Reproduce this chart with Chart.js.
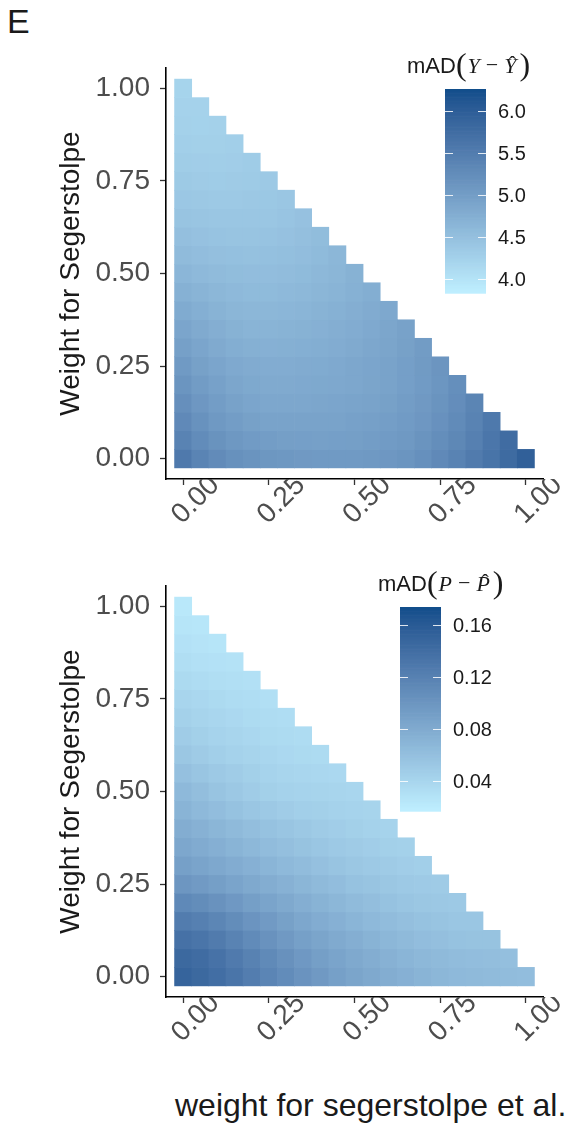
<!DOCTYPE html>
<html>
<head>
<meta charset="utf-8">
<title>mAD heatmaps</title>
<script src="https://cdn.jsdelivr.net/npm/chart.js@4.4.0/dist/chart.umd.min.js"></script>
<style>
    body { margin: 0; background: #fff; width: 565px; height: 1130px; position: relative; overflow: hidden; }
    .panel { position: absolute; left: 0; width: 565px; height: 560px; }
    #panel-top { top: 0; }
    #panel-bottom { top: 518px; }
    #panel-letter { position: absolute; left: 7px; top: 4px; font: 34px/34px "Liberation Sans", Arial, sans-serif; color: #1a1a1a; }
    #caption { position: absolute; left: 175px; top: 1089px; font: 32px/32px "Liberation Sans", Arial, sans-serif; color: #1a1a1a; white-space: nowrap; }
</style>
</head>
<body>
<div id="panel-letter">E</div>
<div class="panel" id="panel-top"><canvas id="chart-y" width="565" height="560"></canvas></div>
<div class="panel" id="panel-bottom"><canvas id="chart-p" width="565" height="560"></canvas></div>
<div id="caption">weight for segerstolpe et al.</div>

<script>
// ---- data ----
// grid of weights (x = weight on the other reference, y = weight for Segerstolpe)
const weights = [0, 0.05, 0.1, 0.15, 0.2, 0.25, 0.3, 0.35, 0.4, 0.45, 0.5,
                 0.55, 0.6, 0.65, 0.7, 0.75, 0.8, 0.85, 0.9, 0.95, 1];

const axisTickValues = [0, 0.25, 0.5, 0.75, 1];
const axisTickLabels = ['0.00', '0.25', '0.50', '0.75', '1.00'];

// mAD(Y - Yhat): one row per y weight (row 0 = y 0.00), values along x
const madYRows = [
    [5.55, 5.38, 5.27, 5.19, 5.14, 5.10, 5.08, 5.06, 5.05, 5.05, 5.05, 5.07, 5.09, 5.13, 5.20, 5.30, 5.40, 5.52, 5.64, 5.78, 5.95],
    [5.40, 5.26, 5.16, 5.08, 5.03, 5.00, 4.98, 4.97, 4.96, 4.97, 4.98, 5.00, 5.03, 5.07, 5.14, 5.23, 5.33, 5.45, 5.60, 5.76],
    [5.30, 5.17, 5.07, 5.00, 4.95, 4.92, 4.91, 4.91, 4.91, 4.92, 4.94, 4.96, 4.99, 5.03, 5.09, 5.18, 5.28, 5.40, 5.56],
    [5.21, 5.09, 5.00, 4.93, 4.88, 4.86, 4.86, 4.86, 4.87, 4.88, 4.90, 4.92, 4.95, 5.00, 5.06, 5.14, 5.24, 5.37],
    [5.13, 5.02, 4.94, 4.87, 4.83, 4.81, 4.81, 4.82, 4.83, 4.84, 4.86, 4.89, 4.92, 4.97, 5.03, 5.11, 5.22],
    [5.05, 4.95, 4.88, 4.82, 4.79, 4.78, 4.78, 4.79, 4.80, 4.82, 4.85, 4.88, 4.92, 4.97, 5.04, 5.12],
    [4.96, 4.88, 4.81, 4.76, 4.73, 4.72, 4.73, 4.74, 4.76, 4.78, 4.81, 4.85, 4.89, 4.95, 5.02],
    [4.88, 4.81, 4.75, 4.70, 4.67, 4.67, 4.68, 4.70, 4.72, 4.75, 4.78, 4.82, 4.87, 4.93],
    [4.80, 4.74, 4.68, 4.64, 4.62, 4.62, 4.63, 4.65, 4.68, 4.71, 4.75, 4.79, 4.84],
    [4.71, 4.66, 4.62, 4.59, 4.57, 4.57, 4.59, 4.61, 4.64, 4.67, 4.71, 4.76],
    [4.63, 4.59, 4.56, 4.54, 4.53, 4.53, 4.55, 4.57, 4.60, 4.64, 4.70],
    [4.56, 4.53, 4.50, 4.49, 4.48, 4.49, 4.51, 4.53, 4.57, 4.62],
    [4.50, 4.47, 4.45, 4.44, 4.44, 4.45, 4.47, 4.50, 4.54],
    [4.44, 4.42, 4.41, 4.40, 4.40, 4.41, 4.43, 4.47],
    [4.39, 4.37, 4.36, 4.36, 4.37, 4.38, 4.41],
    [4.35, 4.33, 4.32, 4.33, 4.34, 4.36],
    [4.31, 4.30, 4.29, 4.30, 4.32],
    [4.28, 4.27, 4.27, 4.28],
    [4.25, 4.24, 4.25],
    [4.23, 4.23],
    [4.21]
];
const madYLimits = [3.83, 6.26];
const madYLegendTicks = [4.0, 4.5, 5.0, 5.5, 6.0];
const madYLegendLabels = ['4.0', '4.5', '5.0', '5.5', '6.0'];

// mAD(P - Phat)
const madPRows = [
    [0.150, 0.145, 0.139, 0.132, 0.124, 0.116, 0.109, 0.102, 0.096, 0.090, 0.085, 0.081, 0.077, 0.074, 0.071, 0.068, 0.066, 0.065, 0.064, 0.063, 0.062],
    [0.145, 0.141, 0.135, 0.127, 0.119, 0.111, 0.104, 0.097, 0.091, 0.086, 0.081, 0.077, 0.073, 0.070, 0.067, 0.065, 0.063, 0.062, 0.061, 0.060],
    [0.136, 0.132, 0.126, 0.118, 0.110, 0.103, 0.096, 0.090, 0.085, 0.080, 0.076, 0.072, 0.068, 0.065, 0.062, 0.060, 0.058, 0.057, 0.057],
    [0.125, 0.121, 0.115, 0.108, 0.101, 0.095, 0.089, 0.083, 0.078, 0.074, 0.070, 0.066, 0.063, 0.060, 0.058, 0.056, 0.054, 0.054],
    [0.112, 0.108, 0.103, 0.097, 0.091, 0.086, 0.081, 0.076, 0.072, 0.068, 0.064, 0.061, 0.058, 0.055, 0.053, 0.052, 0.051],
    [0.099, 0.095, 0.091, 0.086, 0.081, 0.077, 0.073, 0.069, 0.065, 0.062, 0.058, 0.056, 0.053, 0.051, 0.050, 0.049],
    [0.090, 0.086, 0.082, 0.078, 0.074, 0.070, 0.066, 0.063, 0.059, 0.056, 0.053, 0.051, 0.049, 0.047, 0.046],
    [0.083, 0.079, 0.075, 0.071, 0.067, 0.063, 0.060, 0.057, 0.054, 0.051, 0.049, 0.047, 0.045, 0.044],
    [0.077, 0.073, 0.069, 0.065, 0.061, 0.058, 0.055, 0.052, 0.049, 0.047, 0.045, 0.043, 0.042],
    [0.071, 0.066, 0.062, 0.058, 0.054, 0.051, 0.048, 0.046, 0.045, 0.043, 0.042, 0.041],
    [0.066, 0.061, 0.056, 0.052, 0.048, 0.045, 0.043, 0.042, 0.041, 0.040, 0.039],
    [0.059, 0.055, 0.051, 0.048, 0.045, 0.042, 0.040, 0.039, 0.038, 0.037],
    [0.053, 0.049, 0.046, 0.043, 0.041, 0.039, 0.037, 0.036, 0.035],
    [0.048, 0.045, 0.042, 0.040, 0.038, 0.036, 0.035, 0.034],
    [0.044, 0.041, 0.039, 0.037, 0.035, 0.034, 0.033],
    [0.040, 0.038, 0.036, 0.034, 0.033, 0.031],
    [0.036, 0.034, 0.032, 0.031, 0.030],
    [0.032, 0.030, 0.029, 0.028],
    [0.029, 0.027, 0.026],
    [0.026, 0.025],
    [0.023]
];
const madPLimits = [0.0167, 0.1736];
const madPLegendTicks = [0.04, 0.08, 0.12, 0.16];
const madPLegendLabels = ['0.04', '0.08', '0.12', '0.16'];

// ---- colour scale (ggplot-style gradient, interpolated in CIELAB) ----
const lowColor = '#BFEFFF';   // lightblue1
const highColor = '#104E8B';  // dodgerblue4

function hexToLab(hex) {
    const c = [1, 3, 5].map(i => parseInt(hex.substr(i, 2), 16) / 255)
        .map(v => v <= 0.04045 ? v / 12.92 : Math.pow((v + 0.055) / 1.055, 2.4));
    const X = (0.4124 * c[0] + 0.3576 * c[1] + 0.1805 * c[2]) / 0.95047;
    const Y = (0.2126 * c[0] + 0.7152 * c[1] + 0.0722 * c[2]);
    const Z = (0.0193 * c[0] + 0.1192 * c[1] + 0.9505 * c[2]) / 1.08883;
    const f = t => t > 0.008856 ? Math.cbrt(t) : 7.787 * t + 16 / 116;
    return [116 * f(Y) - 16, 500 * (f(X) - f(Y)), 200 * (f(Y) - f(Z))];
}

function labToHex(L, a, b) {
    const fy = (L + 16) / 116, fx = fy + a / 500, fz = fy - b / 200;
    const inv = t => t * t * t > 0.008856 ? t * t * t : (t - 16 / 116) / 7.787;
    const X = inv(fx) * 0.95047, Y = inv(fy), Z = inv(fz) * 1.08883;
    const lin = [
        3.2406 * X - 1.5372 * Y - 0.4986 * Z,
        -0.9689 * X + 1.8758 * Y + 0.0415 * Z,
        0.0557 * X - 0.2040 * Y + 1.0570 * Z
    ];
    return '#' + lin.map(v => {
        const s = v <= 0.0031308 ? 12.92 * v : 1.055 * Math.pow(v, 1 / 2.4) - 0.055;
        const n = Math.round(Math.min(1, Math.max(0, s)) * 255);
        return n.toString(16).padStart(2, '0');
    }).join('');
}

const lowLab = hexToLab(lowColor);
const highLab = hexToLab(highColor);

function colorFor(v, limits) {
    const t = Math.min(1, Math.max(0, (v - limits[0]) / (limits[1] - limits[0])));
    return labToHex(
        lowLab[0] + (highLab[0] - lowLab[0]) * t,
        lowLab[1] + (highLab[1] - lowLab[1]) * t,
        lowLab[2] + (highLab[2] - lowLab[2]) * t
    );
}

// turn the triangular table into floating bars (one tile per value)
function buildTiles(rows) {
    const half = (weights[1] - weights[0]) / 2;
    const tiles = [];
    rows.forEach((row, j) => {
        row.forEach((v, i) => {
            tiles.push({ x: weights[i], y: [weights[j] - half, weights[j] + half], v: v });
        });
    });
    return tiles;
}

const sans = '"Liberation Sans", Arial, sans-serif';
const serif = '"Liberation Serif", "DejaVu Serif", serif';

// colourbar + math title drawn inside the plot, like the ggplot legend
const colorbarPlugin = {
    id: 'colorbar',
    afterDraw(chart, args, opts) {
        const ctx = chart.ctx;
        const [lo, hi] = opts.limits;
        const x0 = opts.left, w = 41, y0 = 89, h = 204;
        ctx.save();

        const steps = 150;
        for (let k = 0; k < steps; k++) {
            const v = hi - (k + 0.5) / steps * (hi - lo);
            ctx.fillStyle = colorFor(v, opts.limits);
            ctx.fillRect(x0, y0 + k * h / steps, w, h / steps + 0.7);
        }

        ctx.font = '20px ' + sans;
        ctx.textAlign = 'left';
        ctx.textBaseline = 'middle';
        opts.ticks.forEach((t, i) => {
            const y = Math.round(y0 + (hi - t) / (hi - lo) * h) + 0.5;
            ctx.strokeStyle = 'rgba(255,255,255,0.85)';
            ctx.lineWidth = 1;
            ctx.beginPath();
            ctx.moveTo(x0, y); ctx.lineTo(x0 + 8, y);
            ctx.moveTo(x0 + w - 8, y); ctx.lineTo(x0 + w, y);
            ctx.stroke();
            ctx.fillStyle = '#1a1a1a';
            ctx.fillText(opts.labels[i], x0 + w + 12, y + 1);
        });

        // title: mAD(L - L^)
        const base = 73;
        let x = opts.titleLeft;
        ctx.textBaseline = 'alphabetic';
        ctx.fillStyle = '#1a1a1a';
        ctx.font = '22px ' + sans;
        ctx.fillText('mAD', x, base);
        x += ctx.measureText('mAD').width;
        ctx.font = '32px ' + serif;
        ctx.fillText('(', x, base + 2);
        x += ctx.measureText('(').width + 1;
        ctx.font = 'italic 22px ' + serif;
        ctx.fillText(opts.letter, x, base);
        const lw = ctx.measureText(opts.letter).width;
        x += lw + 6;
        ctx.font = '22px ' + serif;
        ctx.fillText('\u2212', x, base - 1);
        x += ctx.measureText('\u2212').width + 6;
        ctx.font = 'italic 22px ' + serif;
        ctx.fillText(opts.letter, x, base);
        ctx.font = '22px ' + serif;
        ctx.textAlign = 'center';
        ctx.fillText('\u02C6', x + lw / 2 + 2, base - 2);
        ctx.textAlign = 'left';
        x += lw + 3;
        ctx.font = '32px ' + serif;
        ctx.fillText(')', x, base + 2);

        ctx.restore();
    }
};

function makeChart(canvasId, rows, legend) {
    const tickFont = { family: sans, size: 28 };
    return new Chart(document.getElementById(canvasId), {
        type: 'bar',
        data: {
            datasets: [{
                data: buildTiles(rows),
                backgroundColor: c => c.raw ? colorFor(c.raw.v, legend.limits) : '#fff',
                borderWidth: 0,
                barPercentage: 1,
                categoryPercentage: 1,
                grouped: false
            }]
        },
        options: {
            responsive: false,
            animation: false,
            events: [],
            layout: { padding: { top: 68, right: 22, bottom: 0, left: 0 } },
            plugins: {
                legend: { display: false },
                tooltip: { enabled: false },
                colorbar: legend
            },
            scales: {
                x: {
                    type: 'linear',
                    min: -0.05,
                    max: 1.05,
                    offset: false,
                    afterBuildTicks: s => { s.ticks = axisTickValues.map(v => ({ value: v })); },
                    afterFit: s => { s.height = 81; },
                    grid: { offset: false, drawOnChartArea: false, drawTicks: true, tickLength: 6, tickColor: '#333', tickWidth: 1.3 },
                    border: { display: true, color: '#000', width: 1.6 },
                    ticks: {
                        autoSkip: false,
                        minRotation: 45,
                        maxRotation: 45,
                        labelOffset: 32,
                        padding: -16,
                        color: '#4d4d4d',
                        font: tickFont,
                        callback: (v, i) => axisTickLabels[i]
                    }
                },
                y: {
                    type: 'linear',
                    min: -0.055,
                    max: 1.055,
                    afterBuildTicks: s => { s.ticks = axisTickValues.map(v => ({ value: v })); },
                    afterFit: s => { s.width = 166; },
                    grid: { drawOnChartArea: false, drawTicks: true, tickLength: 6, tickColor: '#333', tickWidth: 1.3 },
                    border: { display: true, color: '#000', width: 1.6 },
                    ticks: {
                        padding: 10,
                        color: '#4d4d4d',
                        font: tickFont,
                        callback: (v, i) => axisTickLabels[i]
                    },
                    title: {
                        display: true,
                        text: 'Weight for Segerstolpe',
                        color: '#1a1a1a',
                        font: { family: sans, size: 28, lineHeight: 1.2 },
                        padding: { top: 54, bottom: 0 }
                    }
                }
            }
        },
        plugins: [colorbarPlugin]
    });
}

makeChart('chart-y', madYRows, {
    limits: madYLimits, ticks: madYLegendTicks, labels: madYLegendLabels,
    left: 445, titleLeft: 407, letter: 'Y'
});
makeChart('chart-p', madPRows, {
    limits: madPLimits, ticks: madPLegendTicks, labels: madPLegendLabels,
    left: 400, titleLeft: 378, letter: 'P'
});
</script>
</body>
</html>
